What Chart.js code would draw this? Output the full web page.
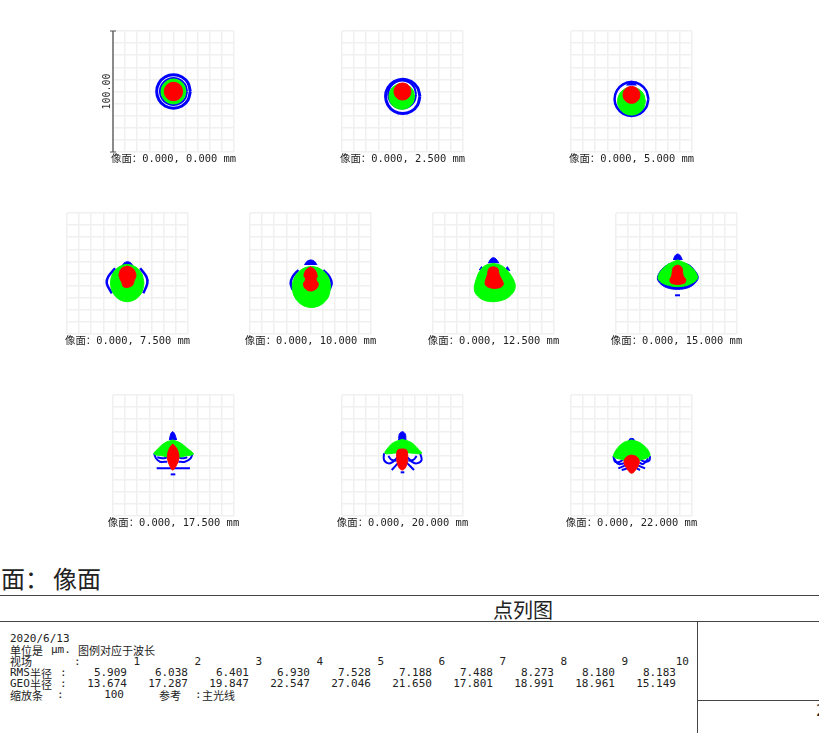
<!DOCTYPE html>
<html>
<head>
<meta charset="utf-8">
<title>点列图</title>
<script src="https://cdn.jsdelivr.net/npm/chart.js@4"></script>
<style>
html, body { margin: 0; padding: 0; background: #fff; }
body { width: 819px; height: 733px; overflow: hidden; position: relative; }
canvas { position: absolute; }
.t { position: absolute; white-space: pre; color: #222; line-height: 12px; font-size: 11px;
     font-family: "DejaVu Sans Mono", "Noto Sans CJK SC", monospace; }
.c { font-family: "Noto Sans CJK SC", sans-serif; font-size: 11px; }
.rule { position: absolute; background: #444; }
</style>
</head>
<body>
<script>
// field positions, mm
const fieldLabels = ['0.000, 0.000', '0.000, 2.500', '0.000, 5.000', '0.000, 7.500', '0.000, 10.000',
  '0.000, 12.500', '0.000, 15.000', '0.000, 17.500', '0.000, 20.000', '0.000, 22.000'];
const fieldNumbers = [1, 2, 3, 4, 5, 6, 7, 8, 9, 10];
const rmsRadius = ['5.909', '6.038', '6.401', '6.930', '7.528', '7.188', '7.488', '8.273', '8.180', '8.183'];
const geoRadius = ['13.674', '17.287', '19.847', '22.547', '27.046', '21.650', '17.801', '18.991', '18.961', '15.149'];
const scaleBar = [[-50, -50], [-50, 50]];

// spots, um from the chief ray. one entry per field
const redSpots = [
  [[7.6,0],[6.6,3.8],[3.8,6.6],[0,7.6],[-3.8,6.6],[-6.6,3.8],[-7.6,0],[-6.6,-3.8],[-3.8,-6.6],[0,-7.6],[3.8,-6.6],[6.6,-3.8],[7.6,0]],
  [[7,0],[6.1,3.5],[3.5,6.1],[0,7],[-3.5,6.1],[-6.1,3.5],[-7,0],[-6.1,-3.5],[-3.5,-6.1],[0,-7],[3.5,-6.1],[6.1,-3.5],[7,0]],
  [[7,-2.8],[6.1,0.7],[3.5,3.3],[0,4.2],[-3.5,3.3],[-6.1,0.7],[-7,-2.8],[-6.1,-6.3],[-3.5,-8.9],[0,-9.8],[3.5,-8.9],[6.1,-6.3],[7,-2.8]],
  [[-0.1,6.2],[4.3,4.3],[7,-1.2],[5.4,-6.2],[4.3,-9.5],[0.7,-11.4],[-3.4,-10.9],[-4.8,-7.3],[-6.2,-4.5],[-7,-0.7],[-4.8,4.3],[-0.1,6.2]],
  [[0.1,5.4],[3.7,2.9],[5.6,-2.6],[4.5,-4.5],[6.5,-8.9],[4.5,-12.8],[0.1,-14.5],[-4,-12.8],[-5.9,-8.9],[-4,-4.5],[-5.4,-1.8],[-3.7,2.9],[0.1,5.4]],
  [[-0.1,5.6],[3.4,4.3],[4.8,-1.2],[8.1,-8.1],[6.7,-10.9],[1.2,-12.3],[-5.1,-10.9],[-7,-8.1],[-5.1,-1.2],[-3.7,4.3],[-0.1,5.6]],
  [[1,7],[4.3,5.1],[5.6,-2.1],[7.6,-4.8],[7,-7.6],[2.9,-8.9],[-1,-8.9],[-4.8,-7.6],[-5.4,-4.8],[-4,-2.1],[-2.6,5.1],[1,7]],
  [[-0.7,9.5],[2.6,5.9],[4.5,-1],[2.6,-7.8],[-0.7,-12],[-3.4,-7.8],[-5.1,-1],[-3.4,5.9],[-0.7,9.5]],
  [[-0.1,5.4],[3.4,4.5],[4.3,-2.3],[2.9,-9.2],[-0.1,-12],[-3.4,-9.2],[-4.8,-2.3],[-4,4.5],[-0.1,5.4]],
  [[0.1,0.4],[4.3,-1],[6.5,-5.1],[4.3,-10.6],[0.1,-14.7],[-4,-10.6],[-6.2,-5.1],[-4,-1],[0.1,0.4]]
];
const greenSpots = [
  [[10.3,0],[8.9,5.2],[5.2,8.9],[0,10.3],[-5.2,8.9],[-8.9,5.2],[-10.3,0],[-8.9,-5.2],[-5.2,-8.9],[0,-10.3],[5.2,-8.9],[8.9,-5.2],[10.3,0]],
  [[10,-4.1],[8.6,1.2],[4.7,5.1],[-0.6,6.5],[-5.9,5.1],[-9.8,1.2],[-11.2,-4.1],[-9.8,-9.4],[-5.9,-13.3],[-0.6,-14.7],[4.7,-13.3],[8.6,-9.4],[10,-4.1]],
  [[11.5,-8],[10,-2.2],[5.8,2],[0,3.5],[-5.8,2],[-10,-2.2],[-11.5,-8],[-10,-13.8],[-5.8,-18],[0,-19.5],[5.8,-18],[10,-13.8],[11.5,-8]],
  [[13.6,-7.9],[11.8,-0.2],[6.7,5.4],[-0.2,7.5],[-7.1,5.4],[-12.2,-0.2],[-14,-7.9],[-12.2,-15.6],[-7.1,-21.2],[-0.2,-23.3],[6.7,-21.2],[11.8,-15.6],[13.6,-7.9]],
  [[16.7,-11.2],[14.6,-2.8],[8.8,3.4],[0.8,5.7],[-7.2,3.4],[-13,-2.8],[-15.1,-11.2],[-13,-19.6],[-7.2,-25.8],[0.8,-28.1],[8.8,-25.8],[14.6,-19.6],[16.7,-11.2]],
  [[-0.1,8.4],[-7,6.5],[-11.7,1.5],[-15.3,-8.1],[-15.8,-13.6],[-13.9,-17.8],[-8.4,-21.9],[-0.1,-23.3],[9.5,-21.3],[15,-17.2],[17.8,-12.3],[17.2,-6.7],[12.3,1.5],[6.7,6.5],[-0.1,8.4]],
  [[1,11.2],[-6.7,7.8],[-12.3,2.9],[-15.3,-3.2],[-13.1,-7],[-6.7,-9.8],[1,-10.9],[8.9,-9.8],[15.3,-6.5],[17.5,-3.2],[14.5,2.9],[8.9,7.8],[1,11.2]],
  [[-0.7,12.8],[-7,10.6],[-12.5,5.9],[-16.1,1.2],[-8.4,-0.4],[-4.3,-1.5],[4,-1.5],[9.5,-0.4],[16.4,1.2],[11.4,5.9],[5.4,10.6],[-0.7,12.8]],
  [[-0.1,13.4],[-7.6,10.6],[-11.7,6.7],[-14.5,1.8],[-7.6,1.8],[-3.4,2.3],[4.3,2.3],[8.9,1.8],[15.8,1.8],[11.7,6.7],[7.6,10.6],[-0.1,13.4]],
  [[0.1,12.8],[-6.7,10.6],[-11.7,5.9],[-15,-0.4],[-12.3,-2.3],[-8.1,-3.2],[-5.4,-4.3],[5.6,-4.3],[9.2,-3.2],[12.5,-2.3],[15.3,0.4],[12.5,5.9],[7,10.6],[0.1,12.8]]
];
// filled blue caps and bodies that show behind the green
const bluePatches = [
  [],
  [],
  [[[-4,5],[-2.5,7.5],[0,8.5],[2.5,7.5],[4,5]]],
  [[[-5.2,5],[-3,8.5],[0,9.7],[3,8.5],[5.2,5]]],
  [[[-5,7],[-3,10],[0.2,11.2],[3.4,10],[5.4,7]]],
  [[[-4.3,8.4],[-2.3,12],[-0.1,13.1],[2.1,12],[4.5,8.4]], [[-11.7,2.9],[-9.8,5.6],[-8.4,2.9]], [[10.3,2.9],[11.4,5.6],[13.6,2.1]]],
  [[[-2.6,11.2],[-1.2,14.7],[1,16.1],[3.2,14.7],[4.8,11.2]],
   [[-6.7,7.8],[-12.3,3.4],[-15.8,-3.2],[-14.2,-7.6],[-8.1,-11.7],[1,-13.1],[9.8,-11.7],[15.8,-7.6],[18,-3.2],[15.3,2.3],[8.9,7.8],[-6.7,7.8]]],
  [[[-3.4,12.8],[-2.3,17.8],[-0.7,19.7],[1,17.8],[2.6,12.8]]],
  [[[-3.2,12.8],[-2.6,17.8],[-0.1,19.7],[2.3,17.8],[2.9,12.8]]],
  [[[-2.6,12.2],[-1.2,13.9],[1.5,13.9],[2.9,12.2]]]
];
// blue rings and the separate traces of points
const blueTraces = [
  [[[13.9,0],[12,7],[7,12],[0,13.9],[-7,12],[-12,7],[-13.9,0],[-12,-7],[-7,-12],[0,-13.9],[7,-12],[12,-7],[13.9,0]],
   [[11.2,0],[9.7,5.6],[5.6,9.7],[0,11.2],[-5.6,9.7],[-9.7,5.6],[-11.2,0],[-9.7,-5.6],[-5.6,-9.7],[0,-11.2],[5.6,-9.7],[9.7,-5.6],[11.2,0]]],
  [[[14.4,-4],[12.5,3.1],[7.3,8.3],[0.2,10.2],[-6.9,8.3],[-12.1,3.1],[-14,-4],[-12.1,-11.1],[-6.9,-16.3],[0.2,-18.2],[7.3,-16.3],[12.5,-11.1],[14.4,-4]],
   [[11.2,-2.5],[9.7,3.3],[5.5,7.5],[-0.3,9],[-6,7.5],[-10.3,3.3],[-11.8,-2.5],[-10.3,-8.3],[-6,-12.5],[-0.3,-14],[5.5,-12.5],[9.7,-8.3],[11.2,-2.5]]],
  [[[14,-6.2],[12.1,0.8],[7,5.9],[0,7.8],[-7,5.9],[-12.1,0.8],[-14,-6.2],[-12.1,-13.2],[-7,-18.3],[0,-20.2],[7,-18.3],[12.1,-13.2],[14,-6.2]]],
  [[[-10.3,4.3],[-15.9,-2.6],[-17.2,-8.1],[-13,-16.4]], [[10.5,4.3],[15.6,-2.6],[16.4,-8.1],[13,-16.4]]],
  [[[-10,2.9],[-14.7,-2.6],[-16.4,-8.1],[-14.7,-13.6]], [[10.6,2.9],[15.6,-2.6],[17.5,-8.1],[15.6,-13.6]]],
  [],
  [[[-1.2,-18],[2.9,-18]]],
  [[[-16,1.8],[-14.5,-2.3],[-11.2,-5.1],[-5.1,-5.1]], [[-13.4,-1.5],[-8.4,-2.3],[-5.1,-1.5]],
   [[15.8,1.8],[14.2,-2.3],[9.5,-5.1],[4,-5.1]], [[11.4,-1.5],[7.5,-2.3],[4,-1.5]],
   [[-13.9,-10.6],[13.6,-10.6]], [[-2.3,-15.6],[1.5,-15.6]]],
  [[[-15.3,1.8],[-15.3,-3.7],[-11.7,-6.5],[-7.6,-5.1],[-4.3,-1.5]], [[-11.7,-0.4],[-8.9,-3.7],[-4.8,-4.3]], [[-8.9,-12],[-3.4,-5.9]],
   [[14.5,1.8],[15.8,-3.7],[11.7,-6.5],[7.6,-5.1],[4.3,-1.5]], [[11.7,-0.4],[8.9,-3.7],[4.8,-4.3]], [[9.5,-12],[3.4,-5.9]],
   [[-1.5,-13.9],[1.5,-13.9]]],
  [[[-15,-0.4],[-13.6,-5.1],[-9.5,-5.1],[-6.7,-3.2]], [[-14.5,-2.3],[-10.9,-7],[-6.2,-6.5]], [[-10.9,-10.6],[-4,-7.8]], [[-8.1,-12],[-3.4,-10.6]],
   [[15.3,-0.4],[14.7,-4.3],[11.2,-5.1],[7,-3.2]], [[13.9,-2.3],[9.8,-7],[6.5,-5.9]], [[11.2,-10.6],[4.3,-7.8]], [[7,-12],[4.3,-10.6]]]
];

const panelLeft = [113, 342, 571, 67, 250, 433, 616, 113, 342, 571];
const panelTop = [31, 31, 31, 213, 213, 213, 213, 395, 395, 395];
const monoFont = '"DejaVu Sans Mono", "Noto Sans CJK SC", monospace';

const toPoints = list => list.map(p => ({ x: p[0], y: p[1] }));

function spotDataset(list, color, filled, width) {
  return {
    data: toPoints(list),
    showLine: true,
    borderColor: color,
    backgroundColor: color,
    borderWidth: width,
    fill: filled ? 'shape' : false,
    tension: 0.35,
    pointRadius: 0
  };
}

fieldLabels.forEach((label, i) => {
  const canvas = document.createElement('canvas');
  canvas.width = 173;
  canvas.height = 146;
  canvas.style.left = (panelLeft[i] - 40) + 'px';
  canvas.style.top = (panelTop[i] - 10) + 'px';
  document.body.appendChild(canvas);

  // first in the list is drawn on top
  const datasets = [spotDataset(redSpots[i], '#ff0000', true, 1), spotDataset(greenSpots[i], '#00ff00', true, 1)];
  blueTraces[i].forEach((t, k) => {
    let w = 2;
    if (i < 2 && k == 0) w = 3;
    if (i == 2 || i == 3 || i == 4) w = 2.5;
    datasets.push(spotDataset(t, '#0000ff', false, w));
  });
  bluePatches[i].forEach(p => datasets.push(spotDataset(p, '#0000ff', true, 1)));
  if (i == 0) {
    datasets.push({
      data: toPoints(scaleBar),
      showLine: true,
      borderColor: '#8a8a8a',
      borderWidth: 2,
      pointStyle: 'line',
      pointRadius: 3,
      pointBorderColor: '#555',
      pointBorderWidth: 1,
      clip: false
    });
  }

  new Chart(canvas.getContext('2d'), {
    type: 'scatter',
    data: { datasets: datasets },
    options: {
      responsive: false,
      animation: false,
      devicePixelRatio: 1,
      layout: { padding: { left: 28, right: 0, top: 10, bottom: 0 } },
      plugins: {
        legend: { display: false },
        tooltip: { enabled: false },
        // axis titles get squeezed to the plot width, the chart title does not
        title: {
          display: true,
          position: 'bottom',
          text: '像面：' + label + ' mm',
          color: '#222',
          font: { family: monoFont, size: 10.4, weight: 'normal', lineHeight: '12px' },
          padding: { top: 0, bottom: 2 }
        }
      },
      scales: {
        x: {
          min: -50, max: 50,
          ticks: { display: false, stepSize: 10 },
          grid: { color: '#f0f0f0', lineWidth: 1.5, drawTicks: false },
          border: { display: false },
          afterFit(s) { s.height = 1; }
        },
        y: {
          min: -50, max: 50,
          ticks: { display: false, stepSize: 10 },
          grid: { color: '#f0f0f0', lineWidth: 1.5, drawTicks: false },
          border: { display: false },
          title: {
            display: i == 0,
            text: '100.00',
            color: '#333',
            font: { family: monoFont, size: 10 },
            padding: 0
          },
          afterFit(s) { s.width = 12; }
        },
        // empty axis as wide as the left one, keeps the title centred on the plot
        yRight: {
          axis: 'y',
          position: 'right',
          min: -50, max: 50,
          ticks: { display: false },
          grid: { display: false },
          border: { display: false },
          afterFit(s) { s.width = 12; }
        }
      }
    }
  });
});

// report block under the plots
function addText(text, x, y, opts) {
  opts = opts || {};
  const el = document.createElement('div');
  el.className = 't' + (opts.cjk ? ' c' : '');
  el.textContent = text;
  el.style.top = (y - 6) + 'px';
  if (opts.right) el.style.right = (819 - x) + 'px';
  else el.style.left = x + 'px';
  if (opts.size) { el.style.fontSize = opts.size + 'px'; el.style.lineHeight = opts.size + 'px'; el.style.top = (y - opts.size / 2) + 'px'; }
  document.body.appendChild(el);
}
function addRule(x, y, w, h) {
  const el = document.createElement('div');
  el.className = 'rule';
  el.style.cssText = `left:${x}px;top:${y}px;width:${w}px;height:${h}px`;
  document.body.appendChild(el);
}

addRule(0, 595, 819, 1);
addRule(0, 621, 819, 1);
addRule(697, 621, 1, 112);
addRule(697, 700, 122, 1);

addText('面：', 1, 578, { cjk: true, size: 24 });
addText('像面', 53, 578, { cjk: true, size: 24 });
addText('点列图', 493, 610, { cjk: true, size: 20 });
addText('2', 816, 711, { size: 16 });

addText('2020/6/13', 10, 639);
addText('单位是', 10, 650, { cjk: true });
addText('μm.', 51, 650);
addText('图例对应于波长', 78, 650, { cjk: true });
addText('视场', 10, 661, { cjk: true });
addText(':', 74, 662);
addText('RMS', 10, 673);
addText('半径', 30, 673, { cjk: true });
addText(':', 60, 673);
addText('GEO', 10, 684);
addText('半径', 30, 684, { cjk: true });
addText(':', 60, 684);
addText('缩放条', 10, 695, { cjk: true });
addText(':', 57, 695);
addText('100', 124, 695, { right: true });
addText('参考', 159, 695, { cjk: true });
addText(':', 195, 695);
addText('主光线', 202, 695, { cjk: true });
fieldNumbers.forEach((n, i) => {
  addText(String(n), 140 + 61 * i, 662, { right: true });
  addText(rmsRadius[i], 127 + 61 * i, 673, { right: true });
  addText(geoRadius[i], 127 + 61 * i, 684, { right: true });
});
</script>
</body>
</html>
